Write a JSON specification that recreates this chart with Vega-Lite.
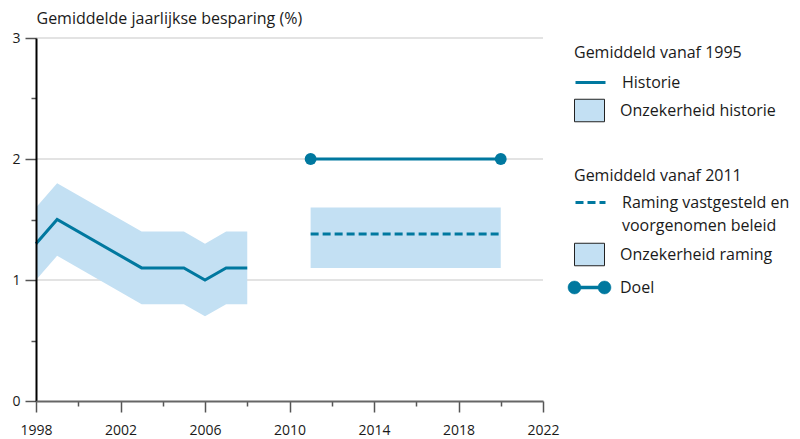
{
  "$schema": "https://vega.github.io/schema/vega-lite/v6.json",
  "autosize": "none",
  "padding": {"left": 36, "top": 38, "right": 257, "bottom": 38},
  "width": 507,
  "height": 363,
  "background": "white",
  "config": {
    "font": "Open Sans",
    "view": {"stroke": null},
    "axis": {"labelFont": "Open Sans", "labelFontSize": 14, "labelColor": "#1a1a1a", "titleFont": "Open Sans"},
    "legend": {
      "labelFont": "Open Sans", "titleFont": "Open Sans",
      "orient": "none", "padding": 0,
      "titleFontSize": 16, "titleFontWeight": "normal", "titleColor": "#1a1a1a", "titlePadding": 5,
      "labelFontSize": 16, "labelColor": "#1a1a1a", "labelLimit": 300, "labelOffset": 15,
      "symbolSize": 900, "symbolOpacity": 1
    },
    "style": {"guide-label": {"lineHeight": 23}}
  },
  "resolve": {"scale": {"fill": "independent"}},
  "datasets": {
    "hist": [
      {"year": 1998, "v": 1.3, "lo": 1.0, "hi": 1.6},
      {"year": 1999, "v": 1.5, "lo": 1.2, "hi": 1.8},
      {"year": 2003, "v": 1.1, "lo": 0.8, "hi": 1.4},
      {"year": 2005, "v": 1.1, "lo": 0.8, "hi": 1.4},
      {"year": 2006, "v": 1.0, "lo": 0.7, "hi": 1.3},
      {"year": 2007, "v": 1.1, "lo": 0.8, "hi": 1.4},
      {"year": 2008, "v": 1.1, "lo": 0.8, "hi": 1.4}
    ],
    "forecast": [
      {"year": 2011, "v": 1.38, "lo": 1.1, "hi": 1.6},
      {"year": 2020, "v": 1.38, "lo": 1.1, "hi": 1.6}
    ],
    "goal": [
      {"year": 2011, "v": 2.0},
      {"year": 2020, "v": 2.0}
    ],
    "grid": [{"g": 1}, {"g": 2}, {"g": 3}]
  },
  "layer": [
    {
      "data": {"name": "grid"},
      "mark": {"type": "rule", "color": "#e3e3e3", "strokeWidth": 2},
      "encoding": {
        "y": {
          "field": "g", "type": "quantitative",
          "scale": {"domain": [0, 3], "nice": false},
          "axis": {
            "title": "Gemiddelde jaarlijkse besparing (%)",
            "titleAngle": 0,
            "titleAlign": "left",
            "titleBaseline": "alphabetic",
            "titleX": 0,
            "titleY": -15,
            "titleFontSize": 16,
            "titleFontWeight": "normal",
            "titleColor": "#1a1a1a",
            "values": [0, 0.5, 1, 1.5, 2, 2.5, 3],
            "labelExpr": "datum.value % 1 == 0 ? format(datum.value, 'd') : ''",
            "tickSize": {"condition": {"test": "datum.value % 1 == 0", "value": 11}, "value": 5},
            "tickColor": "#555",
            "tickWidth": 1.5,
            "domainColor": "#000",
            "domainWidth": 2,
            "labelPadding": 5,
            "grid": false,
            "zindex": 1
          }
        }
      }
    },
    {
      "data": {"name": "hist"},
      "mark": {"type": "area", "opacity": 1},
      "encoding": {
        "x": {
          "field": "year", "type": "quantitative",
          "scale": {"domain": [1998, 2022], "nice": false, "zero": false},
          "axis": {
            "title": null,
            "values": [1998, 2000, 2002, 2004, 2006, 2008, 2010, 2012, 2014, 2016, 2018, 2020, 2022],
            "format": "d",
            "labelExpr": "(datum.value - 1998) % 4 == 0 ? datum.label : ''",
            "tickSize": {"condition": {"test": "(datum.value - 1998) % 4 == 0", "value": 11}, "value": 5},
            "tickColor": "#555",
            "tickWidth": 1.5,
            "domainColor": "#666",
            "domainWidth": 2,
            "labelPadding": 11,
            "labelFlush": false,
            "labelOverlap": false,
            "grid": false,
            "zindex": 2
          }
        },
        "y": {"field": "lo", "type": "quantitative"},
        "y2": {"field": "hi"},
        "fill": {
          "datum": "Onzekerheid historie",
          "scale": {"domain": ["Onzekerheid historie"], "range": ["#c3e0f3"]},
          "legend": {
            "title": null,
            "legendX": 538,
            "legendY": 57,
            "symbolType": "M-1,-0.75H1V0.75H-1Z",
            "symbolStrokeColor": "#222222",
            "symbolStrokeWidth": 1
          }
        }
      }
    },
    {
      "data": {"name": "forecast"},
      "mark": {"type": "area", "opacity": 1},
      "encoding": {
        "x": {"field": "year", "type": "quantitative"},
        "y": {"field": "lo", "type": "quantitative"},
        "y2": {"field": "hi"},
        "color": {
          "datum": "Onzekerheid raming",
          "scale": {"domain": ["Onzekerheid raming"], "range": ["#c3e0f3"]},
          "legend": {
            "title": null,
            "legendX": 538,
            "legendY": 201,
            "symbolType": "M-1,-0.75H1V0.75H-1Z",
            "symbolStrokeColor": "#222222",
            "symbolStrokeWidth": 1
          }
        }
      }
    },
    {
      "data": {"name": "hist"},
      "mark": {"type": "line", "strokeWidth": 3},
      "encoding": {
        "x": {"field": "year", "type": "quantitative"},
        "y": {"field": "v", "type": "quantitative"},
        "stroke": {
          "datum": "Historie",
          "scale": {"domain": ["Historie"], "range": ["#00789f"]},
          "legend": {
            "title": "Gemiddeld vanaf 1995",
            "legendX": 538,
            "legendY": 7,
            "symbolType": "stroke",
            "symbolStrokeWidth": 3
          }
        }
      }
    },
    {
      "data": {"name": "forecast"},
      "mark": {"type": "line", "color": "#00789f", "strokeWidth": 3},
      "encoding": {
        "x": {"field": "year", "type": "quantitative"},
        "y": {"field": "v", "type": "quantitative"},
        "strokeDash": {
          "datum": "Raming vastgesteld en|voorgenomen beleid",
          "scale": {"domain": ["Raming vastgesteld en|voorgenomen beleid"], "range": [[8, 4]]},
          "legend": {
            "title": "Gemiddeld vanaf 2011",
            "legendX": 538,
            "legendY": 130,
            "titlePadding": 2,
            "labelExpr": "split(datum.label, '|')",
            "symbolType": "stroke",
            "symbolStrokeWidth": 3
          }
        }
      }
    },
    {
      "data": {"name": "goal"},
      "mark": {"type": "line", "color": "#00789f", "strokeWidth": 3},
      "encoding": {
        "x": {"field": "year", "type": "quantitative"},
        "y": {"field": "v", "type": "quantitative"}
      }
    },
    {
      "data": {"name": "goal"},
      "mark": {"type": "point", "filled": true, "size": 140, "opacity": 1},
      "encoding": {
        "x": {"field": "year", "type": "quantitative"},
        "y": {"field": "v", "type": "quantitative"},
        "fill": {
          "datum": "Doel",
          "scale": {"domain": ["Doel"], "range": ["#00789f"]},
          "legend": {
            "title": null,
            "legendX": 538,
            "legendY": 234,
            "symbolType": "M-1.43,0A0.43,0.43,0,1,1,-0.57,0A0.43,0.43,0,1,1,-1.43,0Z M0.57,0A0.43,0.43,0,1,1,1.43,0A0.43,0.43,0,1,1,0.57,0Z M-0.6,-0.1H0.6V0.1H-0.6Z",
            "symbolStrokeColor": "#00789f",
            "symbolStrokeWidth": 0.5
          }
        }
      }
    }
  ]
}
